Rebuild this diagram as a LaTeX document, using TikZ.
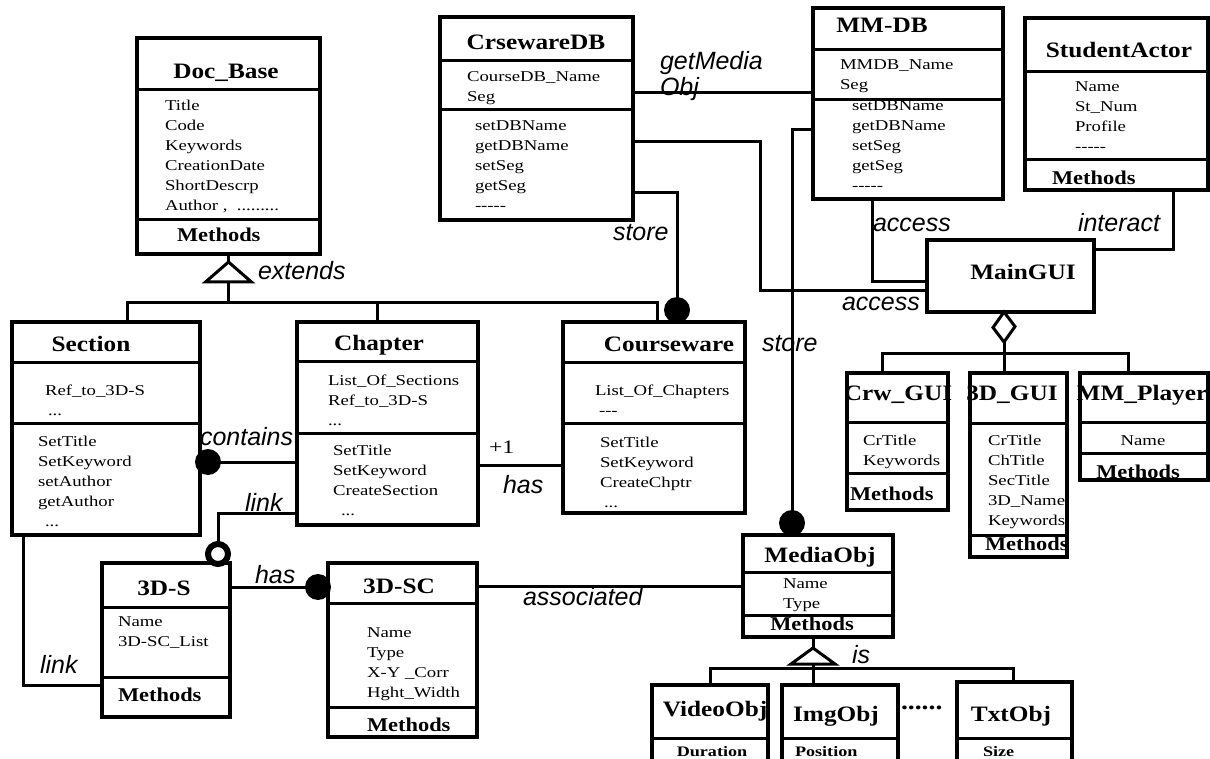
\documentclass[tikz,border=0pt]{standalone}
\usepackage{fontspec}
\setmainfont{Liberation Serif}
\newfontfamily\titlefam[FakeStretch=1.15]{Liberation Serif}
\newfontfamily\attrfam[FakeStretch=1.25]{Liberation Serif}
\newfontfamily\labelfam{Liberation Sans}
\usetikzlibrary{calc}

% class box: name, left, top, right, bottom (pixel-like units, y downwards)
\newcommand\umlclass[5]{%
  \node[classbox, minimum width={(#4-#2)*1pt}, minimum height={(#5-#3)*1pt}]
    (#1) at ({(#2+#4)/2},{(#3+#5)/2}) {};}
% horizontal compartment divider inside a class box
\newcommand\umldiv[2]{\draw[div] (#1.west |- 0,#2) -- (#1.east |- 0,#2);}
% stacked text lines, baseline on the first line
\newcommand\rows[1]{\begin{tabular}[t]{@{}l@{}}#1\end{tabular}}
\newcommand\dashes{-\kern0pt-\kern0pt-\kern0pt-\kern0pt-}

\tikzset{
  every node/.style={inner sep=0pt, outer sep=0pt},
  classbox/.style={draw, rectangle, line width=4.5pt},
  div/.style={line width=3pt},
  conn/.style={line width=3pt},
  ttl/.style={font=\titlefam\bfseries\fontsize{22}{24}\selectfont, anchor=base},
  attr/.style={font=\attrfam\fontsize{15}{20}\selectfont, anchor=base west},
  attrc/.style={font=\attrfam\fontsize{15}{20}\selectfont, anchor=base},
  small/.style={font=\attrfam\bfseries\fontsize{14.5}{16}\selectfont},
  meth/.style={font=\titlefam\bfseries\fontsize{19.5}{22}\selectfont, anchor=base west},
  methc/.style={font=\titlefam\bfseries\fontsize{19.5}{22}\selectfont, anchor=base},
  lbl/.style={font=\labelfam\itshape\fontsize{25}{26}\selectfont, anchor=base west},
  ball/.style={circle, fill, minimum size=26pt},
  ring/.style={circle, draw, line width=6pt, fill=white, minimum size=20pt},
}

\begin{document}
\begin{tikzpicture}[x=1pt, y=-1pt]
\fill[white] (0,0) rectangle (1210,759);
\useasboundingbox (0,0) rectangle (1210,759);

% ---------- class boxes ----------
\umlclass{docbase}{137}{38}{320}{254}
\umldiv{docbase}{90}\umldiv{docbase}{220}
\node[ttl] (docbase-t) at (226,79) {Doc\_Base};
\node[attr] (docbase-a) at (165,111) {\rows{Title\\Code\\Keywords\\CreationDate\\ShortDescrp\\Author ,\ \ .........}};
\node[meth] (docbase-m) at (177,242) {Methods};

\umlclass{section}{12}{322}{200}{535}
\umldiv{section}{362}\umldiv{section}{423}
\node[ttl] (section-t) at (91,352) {Section};
\node[attr] (section-a) at (45,395) {\rows{Ref\_to\_3D-S\\\hspace{3pt}...}};
\node[attr] (section-m) at (38,446) {\rows{SetTitle\\SetKeyword\\setAuthor\\getAuthor\\\hspace{7pt}...}};

\umlclass{chapter}{297}{322}{478}{525}
\umldiv{chapter}{361}\umldiv{chapter}{433}
\node[ttl] (chapter-t) at (379,350) {Chapter};
\node[attr] (chapter-a) at (328,385) {\rows{List\_Of\_Sections\\Ref\_to\_3D-S\\...}};
\node[attr] (chapter-m) at (333,455) {\rows{SetTitle\\SetKeyword\\CreateSection\\\hspace{8pt}...}};

\umlclass{courseware}{563}{322}{745}{513}
\umldiv{courseware}{362}\umldiv{courseware}{423}
\node[ttl] (courseware-t) at (669,352) {Courseware};
\node[attr] (courseware-a) at (595,395) {\rows{List\_Of\_Chapters\\\hspace{4pt}---}};
\node[attr] (courseware-m) at (600,447) {\rows{SetTitle\\SetKeyword\\CreateChptr\\\hspace{4pt}...}};

\umlclass{crdb}{440}{17}{633}{220}
\umldiv{crdb}{61}\umldiv{crdb}{110}
\node[ttl] (crdb-t) at (536,50) {CrsewareDB};
\node[attr] (crdb-a) at (467,82) {\rows{CourseDB\_Name\\Seg}};
\node[attr] (crdb-m) at (475,131) {\rows{setDBName\\getDBName\\setSeg\\getSeg\\\dashes}};

\umlclass{mmdb}{813}{8}{1003}{199}
\umldiv{mmdb}{50}\umldiv{mmdb}{100}
\node[ttl] (mmdb-t) at (882,33) {MM-DB};
\node[attr] (mmdb-a) at (840,70) {\rows{MMDB\_Name\\Seg}};
\node[attr] (mmdb-m) at (852,111) {\rows{setDBName\\getDBName\\setSeg\\getSeg\\\dashes}};

\umlclass{student}{1025}{18}{1208}{190}
\umldiv{student}{72}\umldiv{student}{160}
\node[ttl] (student-t) at (1119,58) {StudentActor};
\node[attr] (student-a) at (1075,92) {\rows{Name\\St\_Num\\Profile\\\dashes}};
\node[meth] (student-m) at (1052,185) {Methods};

\umlclass{maingui}{927}{240}{1094}{312}
\node[ttl] (maingui-t) at (1023,280) {MainGUI};

\umlclass{crwgui}{847}{373}{948}{510}
\umldiv{crwgui}{422}\umldiv{crwgui}{473}
\node[ttl] (crwgui-t) at (898,400) {Crw\_GUI};
\node[attr] (crwgui-a) at (863,445) {\rows{CrTitle\\Keywords}};
\node[meth] (crwgui-m) at (850,500) {Methods};

\umlclass{gui3d}{970}{373}{1067}{557}
\umldiv{gui3d}{423}\umldiv{gui3d}{535}
\node[ttl] (gui3d-t) at (1012,400) {3D\_GUI};
\node[attr] (gui3d-a) at (988,445) {\rows{CrTitle\\ChTitle\\SecTitle\\3D\_Name\\Keywords}};
\node[meth] (gui3d-m) at (985,550) {Methods};

\umlclass{mmplayer}{1080}{373}{1208}{480}
\umldiv{mmplayer}{422}\umldiv{mmplayer}{453}
\node[ttl] (mmplayer-t) at (1142,400) {MM\_Player};
\node[attrc] (mmplayer-a) at (1143,445) {Name};
\node[methc] (mmplayer-m) at (1138,478) {Methods};

\umlclass{mediaobj}{743}{535}{893}{637}
\umldiv{mediaobj}{572}\umldiv{mediaobj}{615}
\node[ttl] (mediaobj-t) at (820,562) {MediaObj};
\node[attr] (mediaobj-a) at (783,588) {\rows{Name\\Type}};
\node[methc] (mediaobj-m) at (812,630) {Methods};

% the three media subclasses run past the lower edge
\umlclass{videoobj}{652}{685}{768}{766}
\umldiv{videoobj}{738}
\node[ttl] (videoobj-t) at (715,716) {VideoObj};
\node[small, anchor=base] (videoobj-a) at (712,756) {Duration};

\umlclass{imgobj}{782}{685}{898}{766}
\umldiv{imgobj}{738}
\node[ttl] (imgobj-t) at (836,721) {ImgObj};
\node[small, anchor=base west] (imgobj-a) at (795,756) {Position};

\umlclass{txtobj}{957}{682}{1072}{766}
\umldiv{txtobj}{738}
\node[ttl] (txtobj-t) at (1011,721) {TxtObj};
\node[small, anchor=base west] (txtobj-a) at (983,756) {Size};

\node[font=\titlefam\bfseries\fontsize{24}{24}\selectfont, anchor=base west] (more-dots) at (901,709) {......};

\umlclass{s3d}{102}{563}{230}{717}
\umldiv{s3d}{607}\umldiv{s3d}{677}
\node[ttl] (s3d-t) at (164,595) {3D-S};
\node[attr] (s3d-a) at (118,626) {\rows{Name\\3D-SC\_List}};
\node[meth] (s3d-m) at (118,701) {Methods};

\umlclass{sc3d}{328}{563}{477}{737}
\umldiv{sc3d}{603}\umldiv{sc3d}{707}
\node[ttl] (sc3d-t) at (399,593) {3D-SC};
\node[attr] (sc3d-a) at (367,637) {\rows{Name\\Type\\X-Y \_Corr\\Hght\_Width}};
\node[meth] (sc3d-m) at (367,731) {Methods};

% ---------- Doc_Base generalisation ----------
\coordinate (ext-apex) at (228.5,262);
\coordinate (ext-base) at (228.5,282);
\coordinate (ext-bus) at (228.5,303);
\draw[conn] (docbase.south) -- (ext-apex);
\draw[conn] (ext-base) -- (ext-bus);
\draw[conn] (section.north -| 127,0) -- (127,303) -- (657,303) -- (courseware.north -| 657,0);
\draw[conn] (chapter.north -| 377,0) -- (377,303);
\draw[conn, fill=white] (ext-apex) -- ($(ext-base)+(-23,0)$) -- ($(ext-base)+(23,0)$) -- cycle;
\node[lbl] (lbl-extends) at (258,280) {extends};

% ---------- database links ----------
\node[ball] (ball-cw) at (677,310) {};
\draw[conn] (crdb.east |- 0,193) -| (ball-cw.center);
\node[lbl] (lbl-store1) at (613,241) {store};

\draw[conn] (crdb.east |- 0,93) -- (mmdb.west |- 0,93);
\node[lbl] (lbl-getmedia) at (660,70) {\rows{getMedia\\Obj}};

\draw[conn] (crdb.east |- 0,142) -| (760,291) -- (maingui.west |- 0,291);
\node[lbl] (lbl-access2) at (842,310) {access};

\node[ball] (ball-mo) at (792,523) {};
\draw[conn] (mmdb.west |- 0,130) -| (ball-mo.center);
\node[lbl] (lbl-store2) at (762,351) {store};

\draw[conn] (mmdb.south -| 872,0) |- (maingui.west |- 0,282);
\node[lbl] (lbl-access1) at (873,232) {access};

\draw[conn] (student.south -| 1173,0) |- (maingui.east |- 0,250);
\node[lbl, anchor=base east] (lbl-interact) at (1160,232) {interact};

% ---------- MainGUI aggregation ----------
\coordinate (agg-top) at (maingui.south -| 1004,0);
\coordinate (agg-bot) at (1004,342);
\coordinate (agg-bus) at (1004,353);
\draw[conn] (agg-bot) -- (agg-bus);
\draw[conn] (crwgui.north -| 882,0) -- (882,353) -- (1128,353) -- (mmplayer.north -| 1128,0);
\draw[conn] (agg-bus) -- (gui3d.north -| 1004,0);
\draw[conn, fill=white] (agg-top) -- ++(11,14.5) -- (agg-bot) -- ++(-11,-14.5) -- cycle;

% ---------- document structure ----------
\node[ball] (ball-sec) at (208,462) {};
\draw[conn] (ball-sec.center) -- (chapter.west |- 0,462);
\node[lbl] (lbl-contains) at (200,445) {contains};

\draw[conn] (chapter.east |- 0,465) -- (courseware.west |- 0,465);
\node[font=\attrfam\fontsize{19}{20}\selectfont, anchor=base west] (lbl-plus1) at (489,453) {+1};
\node[lbl] (lbl-has1) at (503,493) {has};

\node[ring] (ring-3ds) at (218,554) {};
\draw[conn] (chapter.west |- 0,513) -| (ring-3ds.north);
\node[lbl] (lbl-link1) at (245,511) {link};

\draw[conn] (section.south -| 23,0) |- (s3d.west |- 0,685);
\node[lbl] (lbl-link2) at (40,673) {link};

\node[ball] (ball-sc) at (318,587) {};
\draw[conn] (s3d.east |- 0,587) -- (ball-sc.center);
\node[lbl] (lbl-has2) at (255,583) {has};

\draw[conn] (sc3d.east |- 0,586) -- (mediaobj.west |- 0,586);
\node[lbl] (lbl-assoc) at (523,605) {associated};

% ---------- media object specialisation ----------
\coordinate (is-apex) at (813,648);
\coordinate (is-base) at (813,664);
\coordinate (is-bus) at (813,668);
\draw[conn] (mediaobj.south -| 813,0) -- (is-apex);
\draw[conn] (is-base) -- (is-bus);
\draw[conn] (videoobj.north -| 710,0) -- (710,668) -- (1013,668) -- (txtobj.north -| 1013,0);
\draw[conn] (is-bus) -- (imgobj.north -| 813,0);
\draw[conn, fill=white] (is-apex) -- ($(is-base)+(-22,0)$) -- ($(is-base)+(22,0)$) -- cycle;
\node[lbl] (lbl-is) at (852,663) {is};
\end{tikzpicture}
\end{document}
